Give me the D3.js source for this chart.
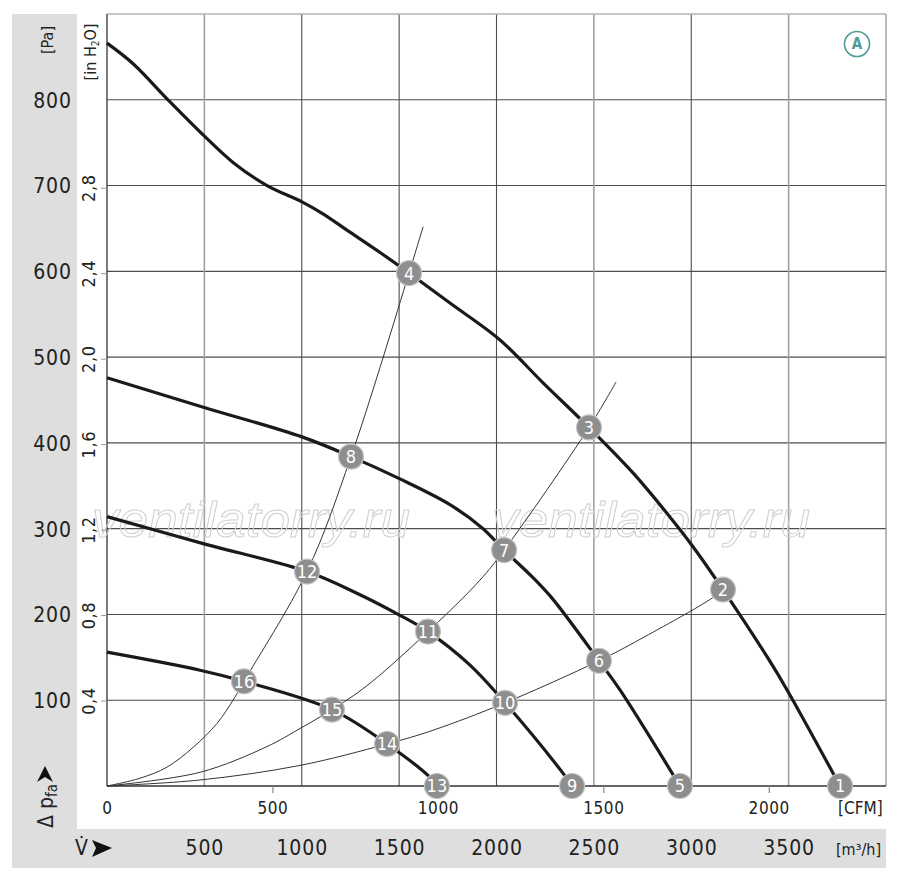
<!DOCTYPE html>
<html>
<head>
<meta charset="utf-8">
<script src="https://cdn.jsdelivr.net/npm/d3@7"></script>
<style>
    body { margin: 0; background: #fff; }
</style>
</head>
<body>
<div id="chart"></div>
<script>

    // fan curves, flow in m3/h and static pressure in Pa
    var curve1Flow = [0, 134, 313, 503, 647, 822, 1001, 1109, 1232, 1402, 1551, 1761, 2018, 2239, 2475, 2701, 2875, 3009, 3163, 3394, 3492, 3764];
    var curve1Pa = [866, 842, 800, 757, 727, 700, 681, 667, 648, 622, 598, 563, 520, 470, 418, 365, 318, 279, 229, 149, 112, 0];

    var curve2Flow = [0, 503, 1001, 1253, 1504, 1761, 1931, 2039, 2187, 2285, 2526, 2634, 2942];
    var curve2Pa = [476, 441, 407, 384, 358, 328, 300, 275, 243, 219, 146, 112, 0];

    var curve3Flow = [0, 503, 1027, 1299, 1504, 1648, 1864, 2044, 2341, 2388];
    var curve3Pa = [314, 282, 250, 223, 199, 180, 141, 97, 15, 0];

    var curve4Flow = [0, 478, 703, 1155, 1438, 1659, 1694];
    var curve4Pa = [156, 135, 122, 89, 49, 10, 0];

    // system resistance lines
    var lineAFlow = [0, 169, 308, 442, 565, 647, 703, 1027, 1253, 1551, 1623];
    var lineAPa = [0, 9, 22, 45, 73, 100, 122, 250, 384, 598, 652];

    var lineBFlow = [0, 478, 822, 991, 1155, 1335, 1648, 1915, 2039, 2475, 2614];
    var lineBPa = [0, 16, 46, 67, 89, 117, 180, 240, 275, 418, 471];

    var lineCFlow = [0, 478, 991, 1438, 1674, 2044, 2526, 2737, 3107, 3163];
    var lineCPa = [0, 7, 24, 49, 65, 97, 146, 171, 219, 229];

    // numbered operating points
    var pointLabels = ["1", "2", "3", "4", "5", "6", "7", "8", "9", "10", "11", "12", "13", "14", "15", "16"];
    var pointFlow = [3764, 3163, 2475, 1551, 2942, 2526, 2039, 1253, 2388, 2044, 1648, 1027, 1694, 1438, 1155, 703];
    var pointPa = [0, 229, 418, 598, 0, 146, 275, 384, 0, 97, 180, 250, 0, 49, 89, 122];

    // ticks
    var flowTicks = [500, 1000, 1500, 2000, 2500, 3000, 3500];
    var cfmTicks = [0, 500, 1000, 1500, 2000];
    var paTicks = [100, 200, 300, 400, 500, 600, 700, 800];
    var inchTicks = [0.4, 0.8, 1.2, 1.6, 2.0, 2.4, 2.8];

    var M3H_PER_CFM = 1.699;
    var PA_PER_INCH = 249.09;

    var FONT = "'Liberation Sans Narrow', 'Arial Narrow', 'DejaVu Sans Condensed', sans-serif";

    var margin = {
        top: 14,
        bottom: 94,
        right: 14,
        left: 107
    };

    var svgWidth = 900;
    var svgHeight = 880;

    var plot_height = svgHeight - margin.top - margin.bottom;
    var plot_width = svgWidth - margin.left - margin.right;

    var svg = d3
        .select("#chart")
        .append("svg")
        .attr("height", svgHeight)
        .attr("width", svgWidth)
        .style("font-family", FONT);

    // grey label bands
    svg.append("rect")
        .attr("x", 12).attr("y", 14)
        .attr("width", 65).attr("height", 854)
        .attr("fill", "#dedede");
    svg.append("rect")
        .attr("x", 12).attr("y", 829)
        .attr("width", 874).attr("height", 39)
        .attr("fill", "#dedede");

    var chartGroup = svg.append("g")
        .attr("transform", `translate(${margin.left}, ${margin.top})`);

    var xScale = d3.scaleLinear().domain([0, 4000]).range([0, plot_width]);
    var xCfm = d3.scaleLinear().domain([0, 4000 / M3H_PER_CFM]).range([0, plot_width]);
    var yScale = d3.scaleLinear().domain([0, 900]).range([plot_height, 0]);
    var yInch = d3.scaleLinear().domain([0, 900 / PA_PER_INCH]).range([plot_height, 0]);

    // grid
    chartGroup.selectAll(".hgrid")
        .data(paTicks)
        .enter()
        .append("line")
        .attr("x1", 0).attr("x2", plot_width)
        .attr("y1", d => yScale(d)).attr("y2", d => yScale(d))
        .attr("stroke", "#4d4d4d")
        .attr("stroke-width", 1.1);

    chartGroup.selectAll(".vgrid")
        .data(flowTicks)
        .enter()
        .append("line")
        .attr("x1", d => xScale(d)).attr("x2", d => xScale(d))
        .attr("y1", 0).attr("y2", plot_height)
        .attr("stroke", d => (d % 1000 === 500 && d !== 1500) ? "#a0a0a0" : "#4d4d4d")
        .attr("stroke-width", d => (d % 1000 === 500 && d !== 1500) ? 1.6 : 1.1);

    // frame
    chartGroup.append("line").attr("x1", 0).attr("x2", plot_width).attr("y1", 0).attr("y2", 0)
        .attr("stroke", "#b4b4b4").attr("stroke-width", 1.5);
    chartGroup.append("line").attr("x1", plot_width).attr("x2", plot_width).attr("y1", 0).attr("y2", plot_height)
        .attr("stroke", "#8a8a8a").attr("stroke-width", 1.2);
    chartGroup.append("line").attr("x1", 0).attr("x2", 0).attr("y1", 0).attr("y2", plot_height)
        .attr("stroke", "#333").attr("stroke-width", 1.3);
    chartGroup.append("line").attr("x1", 0).attr("x2", plot_width).attr("y1", plot_height).attr("y2", plot_height)
        .attr("stroke", "#333").attr("stroke-width", 1.3);

    // watermark
    [[-15, 523], [385, 523]].forEach(function (p) {
        chartGroup.append("text")
            .attr("x", p[0]).attr("y", p[1])
            .attr("textLength", 318)
            .attr("lengthAdjust", "spacingAndGlyphs")
            .attr("font-family", "'Liberation Sans', sans-serif")
            .attr("font-style", "italic")
            .attr("font-size", "50px")
            .attr("fill", "none")
            .attr("stroke", "#cfcfcf")
            .attr("stroke-width", 1)
            .text("ventilatorry.ru");
    });

    // axes
    var cfmAxis = d3.axisBottom(xCfm).tickValues(cfmTicks).tickSize(7).tickFormat(d3.format("d"));
    var cfmG = chartGroup.append("g").attr("transform", `translate(0, ${plot_height})`).call(cfmAxis);
    cfmG.select(".domain").remove();
    cfmG.selectAll(".tick line").attr("stroke", "#888").attr("stroke-width", 1.2)
        .filter(d => d === 0).remove();
    cfmG.selectAll(".tick text")
        .attr("y", 22).attr("dy", "0.35em")
        .attr("font-family", FONT).attr("font-size", "17px")
        .attr("letter-spacing", "0.6px").attr("fill", "#222");

    var flowAxis = d3.axisBottom(xScale).tickValues(flowTicks).tickSize(0).tickFormat(d3.format("d"));
    var flowG = chartGroup.append("g").attr("transform", `translate(0, ${plot_height})`).call(flowAxis);
    flowG.select(".domain").remove();
    flowG.selectAll(".tick text")
        .attr("y", 62).attr("dy", "0.35em")
        .attr("font-family", FONT).attr("font-size", "21px")
        .attr("letter-spacing", "0.9px").attr("fill", "#222");

    var paAxis = d3.axisLeft(yScale).tickValues(paTicks).tickSize(0);
    var paG = chartGroup.append("g").call(paAxis);
    paG.select(".domain").remove();
    paG.selectAll(".tick text")
        .attr("x", -54.5).attr("dy", "0.35em")
        .attr("text-anchor", "middle")
        .attr("font-family", FONT).attr("font-size", "21px")
        .attr("letter-spacing", "0.9px").attr("fill", "#222");

    var inchAxis = d3.axisLeft(yInch).tickValues(inchTicks).tickSize(6)
        .tickFormat(d => d.toFixed(1).replace(".", ","));
    var inchG = chartGroup.append("g").call(inchAxis);
    inchG.select(".domain").remove();
    inchG.selectAll(".tick line").attr("stroke", "#999");
    inchG.selectAll(".tick text")
        .attr("x", 0).attr("y", 0).attr("dy", 0)
        .attr("transform", "translate(-12, 0) rotate(-90)")
        .attr("text-anchor", "middle")
        .attr("font-family", FONT).attr("font-size", "18px")
        .attr("letter-spacing", "0.6px").attr("fill", "#222");

    // system lines
    var line = d3.line()
        .x(d => xScale(d[0]))
        .y(d => yScale(d[1]))
        .curve(d3.curveCatmullRom.alpha(0.5));

    [[lineAFlow, lineAPa], [lineBFlow, lineBPa], [lineCFlow, lineCPa]].forEach(function (s) {
        chartGroup.append("path")
            .datum(d3.zip(s[0], s[1]))
            .attr("d", line)
            .attr("fill", "none")
            .attr("stroke", "#333")
            .attr("stroke-width", 1);
    });

    // fan curves
    [[curve1Flow, curve1Pa], [curve2Flow, curve2Pa], [curve3Flow, curve3Pa], [curve4Flow, curve4Pa]].forEach(function (s) {
        chartGroup.append("path")
            .datum(d3.zip(s[0], s[1]))
            .attr("d", line)
            .attr("fill", "none")
            .attr("stroke", "#1a1a1a")
            .attr("stroke-width", 3.2);
    });

    // operating points
    var pointData = pointLabels.map((l, i) => ({ label: l, flow: pointFlow[i], pa: pointPa[i] }));

    var pointsGroup = chartGroup.selectAll(".pt")
        .data(pointData)
        .enter()
        .append("g")
        .attr("transform", d => `translate(${xScale(d.flow)}, ${yScale(d.pa)})`);

    pointsGroup.append("circle")
        .attr("r", 12.5)
        .attr("fill", "#8e8e8e")
        .attr("stroke", "#c4c4c4")
        .attr("stroke-width", 1.2);

    pointsGroup.append("text")
        .attr("text-anchor", "middle")
        .attr("dy", "0.36em")
        .attr("font-size", "18px")
        .attr("fill", "#fff")
        .text(d => d.label);

    // axis titles
    svg.append("text")
        .attr("transform", "translate(53, 40) rotate(-90)")
        .attr("text-anchor", "middle")
        .attr("font-size", "16px")
        .attr("fill", "#222")
        .text("[Pa]");

    var inH2O = svg.append("text")
        .attr("transform", "translate(96, 52) rotate(-90)")
        .attr("text-anchor", "middle")
        .attr("font-size", "16px")
        .attr("fill", "#222");
    inH2O.append("tspan").text("[in H");
    inH2O.append("tspan").attr("font-size", "10px").attr("dy", "3").text("2");
    inH2O.append("tspan").attr("dy", "-3").text("O]");

    var dp = svg.append("text")
        .attr("transform", "translate(53, 828) rotate(-90)")
        .attr("font-size", "21px")
        .attr("fill", "#222");
    dp.append("tspan").text("Δ p");
    dp.append("tspan").attr("font-size", "15px").attr("dy", "4").text("fa");

    svg.append("path")
        .attr("d", "M45,766 L53,782 L45,777 L37,782 Z")
        .attr("fill", "#111");

    svg.append("text")
        .attr("x", 75).attr("y", 848).attr("dy", "0.35em")
        .attr("font-size", "21px")
        .attr("fill", "#222")
        .text("V\u0307");

    svg.append("path")
        .attr("d", "M92,840 L112,848 L92,857 L96,848 Z")
        .attr("fill", "#111");

    svg.append("text")
        .attr("x", 838).attr("y", 808).attr("dy", "0.35em")
        .attr("font-size", "17px")
        .attr("fill", "#222")
        .text("[CFM]");

    svg.append("text")
        .attr("x", 836).attr("y", 849).attr("dy", "0.35em")
        .attr("font-size", "16px")
        .attr("fill", "#222")
        .text("[m³/h]");

    // curve set marker
    svg.append("circle")
        .attr("cx", 857).attr("cy", 44).attr("r", 12.5)
        .attr("fill", "none")
        .attr("stroke", "#4f9d97")
        .attr("stroke-width", 1.6);

    svg.append("text")
        .attr("x", 857).attr("y", 44).attr("dy", "0.36em")
        .attr("text-anchor", "middle")
        .attr("font-size", "15px")
        .attr("font-weight", "bold")
        .attr("fill", "#4f9d97")
        .text("A");

</script>
</body>
</html>
